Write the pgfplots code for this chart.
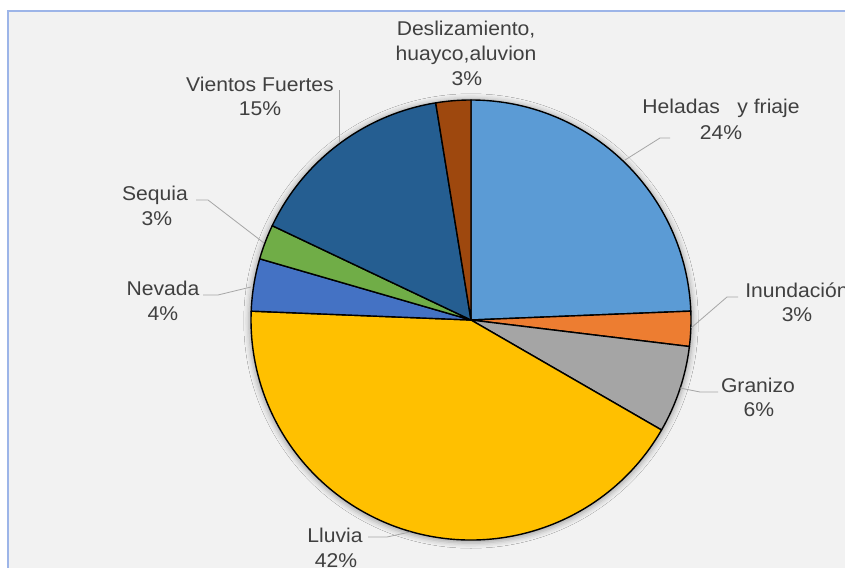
\documentclass[border=0pt]{standalone}
\usepackage{pgfplots}
\pgfplotsset{compat=1.18}
\usepackage{fontspec}
\setmainfont{Liberation Sans}[FakeStretch=1.06]
\usetikzlibrary{shadows.blur}
\definecolor{cHel}{HTML}{5B9BD5}
\definecolor{cInu}{HTML}{ED7D31}
\definecolor{cGra}{HTML}{A5A5A5}
\definecolor{cLlu}{HTML}{FFC000}
\definecolor{cNev}{HTML}{4472C4}
\definecolor{cSeq}{HTML}{70AD47}
\definecolor{cVie}{HTML}{255E91}
\definecolor{cDes}{HTML}{9E480E}
\definecolor{bgGray}{HTML}{F2F2F2}
\definecolor{frameBlue}{HTML}{9DB5E8}
\definecolor{txt}{HTML}{404040}
\definecolor{lead}{HTML}{A6A6A6}
% counts per category (total 78): start/end cumulative counts
\def\total{78}
\begin{document}
\begin{tikzpicture}
\begin{axis}[
  at={(0,0)}, anchor=origin,
  width=845bp, height=568bp, scale only axis,
  xmin=0, xmax=845, ymin=0, ymax=568,
  hide axis, clip=false,
]
\pgfplotsextra{
  \fill[white] (axis cs:0,0) rectangle (axis cs:845,568);
  \fill[bgGray] (axis cs:8,0) rectangle (axis cs:845,557);
  \draw[frameBlue, line width=1.5bp] (axis cs:8,0) -- (axis cs:8,557) -- (axis cs:845,557);
  \path[fill=white, blur shadow={shadow xshift=0bp, shadow yshift=-1bp, shadow blur radius=5bp, shadow opacity=30, shadow scale=1.01}]
     (axis cs:471,248) circle[radius=220bp];
  \foreach \a/\b/\col in {0/19/cHel, 19/21/cInu, 21/26/cGra, 26/59/cLlu, 59/62/cNev, 62/64/cSeq, 64/76/cVie, 76/78/cDes} {
    \pgfmathsetmacro{\s}{90-\a/\total*360}
    \pgfmathsetmacro{\e}{90-\b/\total*360}
    \filldraw[fill=\col, draw=black, line width=1.4bp, line join=round]
      (axis cs:471,248) -- ++(\s:220bp) arc[start angle=\s, end angle=\e, radius=220bp] -- cycle;
  }
  \begin{scope}[lead, line width=0.8bp]
    \draw (axis cs:625,408) -- (axis cs:660,430) -- (axis cs:670,430);
    \draw (axis cs:691,240) -- (axis cs:727,271) -- (axis cs:738,271);
    \draw (axis cs:680,180) -- (axis cs:700,176) -- (axis cs:718,176);
    \draw (axis cs:339,426) -- (axis cs:339,478);
    \draw (axis cs:264,325) -- (axis cs:208,368) -- (axis cs:196,368);
    \draw (axis cs:251,281) -- (axis cs:218,273) -- (axis cs:203,273);
    \draw (axis cs:410,36) -- (axis cs:387,31) -- (axis cs:368,31);
  \end{scope}
  \begin{scope}[every node/.style={anchor=base, inner sep=0pt, text=txt, font=\fontsize{20}{24}\selectfont}]
    \node at (axis cs:466,532) {Deslizamiento,};
    \node at (axis cs:466,507) {huayco,aluvion};
    \node at (axis cs:467,482) {3\%};
    \node at (axis cs:721,454) {Heladas\ \ \ y friaje};
    \node at (axis cs:721,428) {24\%};
    \node at (axis cs:797,270) {Inundación};
    \node at (axis cs:797,246) {3\%};
    \node at (axis cs:758,175) {Granizo};
    \node at (axis cs:759,151) {6\%};
    \node at (axis cs:260,476) {Vientos Fuertes};
    \node at (axis cs:260,452) {15\%};
    \node at (axis cs:155,367) {Sequia};
    \node at (axis cs:157,342) {3\%};
    \node at (axis cs:163,272) {Nevada};
    \node at (axis cs:163,247) {4\%};
    \node at (axis cs:335,26) {Lluvia};
    \node at (axis cs:336,1) {42\%};
  \end{scope}
}
\end{axis}
\pgfresetboundingbox
\useasboundingbox (0,0) rectangle (845bp,568bp);
\end{tikzpicture}
\end{document}
